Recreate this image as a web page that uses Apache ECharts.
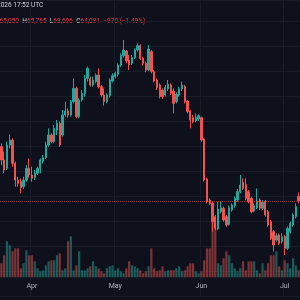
<!DOCTYPE html>
<html>
<head>
<meta charset="utf-8">
<script src="https://cdn.jsdelivr.net/npm/echarts@6/dist/echarts.min.js"></script>
<style>
html, body { margin: 0; padding: 0; background: #0e111b; }
#chart { width: 300px; height: 300px; }
</style>
</head>
<body>
<div id="chart"></div>
<script>
// daily candles, first one is 21 Mar 2026
const firstDay = '2026-03-21';
const monthNames = ['Jan', 'Feb', 'Mar', 'Apr', 'May', 'Jun', 'Jul', 'Aug', 'Sep', 'Oct', 'Nov', 'Dec'];

const opens = [
  74950, 72280, 70610, 75280, 76280, 71610, 68280, 67950, 66950, 68280,
  70610, 69280, 68750, 69610, 70610, 72080, 72750, 75280, 77280, 75950,
  78280, 79610, 77280, 81280, 82080, 81280, 83950, 86610, 80950, 84280,
  85610, 88610, 88610, 87280, 87950, 89280, 86950, 85280, 83950, 85150,
  88080, 88950, 89410, 91280, 93150, 94080, 92280, 91610, 92750, 94280,
  95150, 92610, 91610, 90280, 93950, 89950, 88280, 87280, 86280, 85280,
  86480, 87280, 86080, 83950, 85280, 86480, 86950, 84080, 82080, 80750,
  80080, 80480, 80750, 76480, 68480, 64280, 63610, 60950, 58480, 61950,
  62610, 60950, 59410, 62280, 63150, 64280, 65950, 67810, 67410, 65950,
  64610, 62080, 62750, 64280, 62610, 63950, 61950, 59950, 57950, 56280,
  57280, 55950, 56950, 54610, 57950, 59280, 60950, 65050
];
const closes = [
  72280, 70280, 75280, 76280, 71610, 68280, 67610, 66750, 68280, 70610,
  69280, 68610, 69610, 70610, 72280, 72750, 75280, 77280, 75950, 78610,
  79610, 75280, 81280, 82080, 81280, 83950, 86610, 80950, 84280, 85610,
  88610, 90610, 87280, 88280, 89280, 86950, 85280, 83950, 85280, 88280,
  89150, 89610, 91280, 93150, 94280, 92080, 91280, 92750, 94280, 95150,
  92610, 91610, 90280, 94480, 89950, 88080, 86750, 84950, 84950, 86750,
  87410, 85610, 83610, 85410, 86480, 87280, 83950, 81950, 80280, 79950,
  80750, 81150, 76280, 68280, 63950, 63610, 59950, 58610, 62480, 62750,
  60280, 59280, 62750, 63280, 64610, 65950, 67280, 66610, 64610, 63950,
  61950, 63150, 64080, 62610, 63810, 61280, 59280, 56610, 55280, 57150,
  55610, 56950, 54610, 58610, 59610, 61280, 62950, 64081
];
const lows = [
  71280, 69610, 70280, 74610, 70950, 66950, 66950, 65610, 66480, 67950,
  68750, 67950, 68280, 69280, 69610, 71610, 72480, 74950, 75610, 75610,
  77280, 74950, 76950, 80950, 80750, 80950, 83610, 80610, 80610, 83950,
  84950, 87950, 86950, 86950, 87610, 86610, 84950, 83150, 83610, 84750,
  87810, 88610, 88950, 90950, 92750, 91610, 90280, 91280, 92480, 93950,
  92280, 91150, 89810, 90080, 89610, 87810, 86280, 84610, 84480, 84950,
  86080, 85280, 81610, 83610, 84950, 86080, 83610, 81610, 78610, 79610,
  79810, 80080, 75950, 67950, 63610, 63280, 57950, 58280, 58280, 61610,
  59950, 58950, 59150, 61950, 62750, 63950, 65610, 66280, 64280, 63610,
  61610, 61810, 62480, 62280, 62280, 60950, 58950, 56280, 53950, 55950,
  55280, 55610, 53280, 54280, 57610, 58950, 60610, 63606
];
const highs = [
  75610, 73950, 75950, 77410, 76610, 71950, 68950, 68610, 68950, 71280,
  72610, 70950, 70280, 70950, 72610, 73280, 75950, 78610, 77610, 79280,
  80280, 79950, 82280, 83950, 82610, 84280, 88610, 86950, 84610, 86280,
  89280, 90950, 88950, 88950, 89610, 90610, 87280, 86610, 85610, 88610,
  89610, 89950, 91610, 93610, 96280, 94280, 93280, 93280, 94610, 95610,
  95410, 92950, 91950, 95280, 94280, 90280, 88610, 87610, 86610, 87280,
  88280, 87610, 86610, 85810, 86950, 87950, 87280, 84280, 82280, 81280,
  81610, 81410, 80950, 76610, 68750, 64610, 63950, 61280, 63950, 63950,
  62950, 61280, 63150, 63610, 64950, 66480, 69280, 68610, 68610, 66280,
  64950, 63610, 66610, 64610, 64280, 64280, 62280, 60280, 58280, 57610,
  57610, 57610, 57280, 58950, 59950, 61610, 63610, 65765
];
// volume in thousands
const volumes = [
  14, 22, 36, 32, 26, 29, 29, 9, 14, 27,
  22, 22, 16, 9, 6, 7, 12, 16, 17, 17,
  22, 24, 7, 9, 36, 41, 7, 12, 26, 7,
  7, 9, 11, 16, 11, 9, 6, 4, 9, 11,
  12, 7, 9, 6, 4, 9, 16, 12, 11, 9,
  7, 4, 6, 11, 29, 9, 6, 7, 11, 6,
  7, 7, 7, 9, 11, 6, 7, 11, 14, 14,
  6, 4, 6, 17, 29, 29, 57, 50, 14, 12,
  19, 26, 22, 14, 9, 6, 9, 16, 7, 16,
  16, 16, 7, 4, 14, 7, 14, 22, 22, 26,
  11, 7, 17, 14, 9, 19, 12, 7
];
const lastPrice = 64081;

const upColor = '#26a69a';
const downColor = '#ef5350';

const days = [];
const d0 = new Date(firstDay + 'T00:00:00Z');
for (let i = 0; i < opens.length; i++) {
  const d = new Date(d0.getTime() + i * 86400000);
  days.push(d.toISOString().slice(0, 10));
}
const candles = opens.map((o, i) => [o, closes[i], lows[i], highs[i]]);
const volBars = volumes.map((v, i) => ({
  value: v,
  itemStyle: { color: closes[i] >= opens[i] ? 'rgba(38,166,154,0.5)' : 'rgba(239,83,80,0.5)' }
}));
const isMonthStart = (idx, val) => val.slice(8, 10) === '01';

const chart = echarts.init(document.getElementById('chart'));
chart.setOption({
  backgroundColor: '#0e111b',
  animation: false,
  grid: [
    { left: 0, right: 0, top: 0, bottom: 3.6 },
    { left: 0, right: 0, bottom: 22.7, height: 100 }
  ],
  xAxis: [
    {
      type: 'category', data: days, gridIndex: 0,
      axisLine: { show: false }, axisTick: { show: false }, axisLabel: { show: false },
      splitLine: { show: true, interval: isMonthStart, lineStyle: { color: '#181c27', width: 1 } }
    },
    {
      type: 'category', data: days, gridIndex: 1,
      axisLine: { show: false }, axisTick: { show: false },
      axisLabel: {
        interval: isMonthStart,
        formatter: (val) => monthNames[+val.slice(5, 7) - 1],
        color: '#b2b5be', fontSize: 7, fontFamily: 'Roboto', margin: 5
      },
      splitLine: { show: false }
    }
  ],
  yAxis: [
    {
      type: 'value', gridIndex: 0, min: 45000, max: 104281, interval: 5000,
      axisLine: { show: false }, axisTick: { show: false }, axisLabel: { show: false },
      splitLine: { show: true, lineStyle: { color: '#181c27', width: 1 } }
    },
    {
      type: 'value', gridIndex: 1, min: 0, max: 100, show: false,
      splitLine: { show: false }
    }
  ],
  series: [
    {
      type: 'bar', xAxisIndex: 1, yAxisIndex: 1,
      data: volBars, barWidth: 2.2
    },
    {
      type: 'candlestick', xAxisIndex: 0, yAxisIndex: 0,
      data: candles, barWidth: 1.8,
      itemStyle: { color: upColor, color0: downColor, borderColor: upColor, borderColor0: downColor, borderWidth: 1 },
      markLine: {
        symbol: 'none', silent: true, label: { show: false },
        lineStyle: { color: downColor, opacity: 0.55, width: 1, type: 'dotted' },
        data: [{ yAxis: lastPrice }]
      }
    }
  ],
  graphic: [
    {
      type: 'text', left: -3, top: 2,
      style: { text: '2026 17:52 UTC', fill: '#d1d4dc', font: '6.5px Roboto' }
    },
    {
      type: 'text', left: -5, top: 15,
      style: {
        text: '{k|O}{v|65,050} {k|H}{v|65,765} {k|L}{v|63,606} {k|C}{v|64,081} {v|\u2212970 (\u22121.49%)}',
        rich: {
          k: { fill: '#d1d4dc', font: '6.5px Roboto' },
          v: { fill: '#f23645', font: '6.5px Roboto' }
        }
      }
    }
  ]
});
</script>
</body>
</html>
